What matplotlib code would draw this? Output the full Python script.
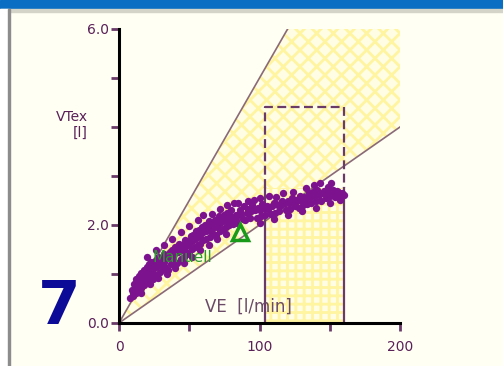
import matplotlib
matplotlib.use("Agg")
import matplotlib.pyplot as plt
from matplotlib.patches import Polygon, Rectangle

# breathing data: ventilation VE [l/min] vs tidal volume VTex [l]
ve = [8, 9, 10, 11, 12, 12, 13, 14, 14, 15, 16, 16, 17, 18, 18, 19, 20, 21, 21,
      22, 23, 24, 24, 25, 26, 27, 27, 28, 29, 30, 31, 32, 33, 34, 35, 36, 37, 38,
      39, 40, 41, 42, 43, 44, 45, 46, 47, 48, 49, 50, 51, 52, 53, 54, 55, 56, 57,
      58, 59, 60, 61, 62, 63, 64, 65, 66, 67, 68, 69, 70, 71, 72, 73, 74, 75, 76,
      77, 78, 79, 80, 81, 82, 83, 84, 86, 88, 89, 90, 92, 93, 95, 96, 98, 99, 101,
      102, 104, 105, 107, 108, 110, 111, 113, 114, 116, 117, 119, 120, 122, 123,
      125, 126, 128, 129, 131, 132, 134, 135, 137, 138, 140, 141, 143, 144, 146,
      147, 149, 150, 152, 154, 156, 158, 160]
vtex = [0.52, 0.68, 0.55, 0.80, 0.62, 0.90, 0.75, 0.95, 0.66, 0.88, 1.02, 0.72,
        0.93, 1.08, 0.78, 0.98, 1.15, 0.85, 1.20, 1.05, 1.25, 0.90, 1.18, 1.00,
        1.28, 0.98, 1.22, 1.35, 1.05, 1.30, 1.10, 1.40, 1.15, 1.38, 1.08, 1.45,
        1.20, 1.50, 1.25, 1.55, 1.22, 1.48, 1.62, 1.30, 1.60, 1.35, 1.70, 1.45,
        1.68, 1.40, 1.78, 1.52, 1.80, 1.55, 1.88, 1.60, 1.90, 1.62, 1.95, 1.70,
        2.00, 1.72, 1.95, 2.08, 1.75, 2.02, 1.82, 2.10, 1.80, 2.05, 2.18, 1.88,
        2.12, 1.92, 2.20, 1.95, 2.25, 2.00, 2.18, 2.30, 2.02, 2.45, 2.20, 2.05,
        2.30, 2.12, 2.38, 2.10, 2.32, 2.15, 2.40, 2.52, 2.15, 2.35, 2.18, 2.42,
        2.20, 2.38, 2.60, 2.22, 2.45, 2.25, 2.40, 2.28, 2.50, 2.65, 2.30, 2.48,
        2.32, 2.55, 2.38, 2.52, 2.35, 2.60, 2.40, 2.58, 2.42, 2.65, 2.45, 2.68,
        2.48, 2.72, 2.85, 2.50, 2.70, 2.55, 2.78, 2.60, 2.72, 2.58, 2.68, 2.60,
        2.62]
# breaths lying in the middle of the cloud
ve_mid = [10, 13, 15, 17, 19, 20, 22, 23, 25, 26, 28, 30, 32, 33, 35, 37, 38,
          40, 42, 44, 46, 48, 50, 52, 54, 56, 58, 60, 62, 64, 66, 68, 70, 72, 74,
          76, 78, 80, 83, 85, 87, 91, 94, 97, 100, 103, 106, 109, 112, 115, 118,
          121, 124, 127, 130, 133, 136, 139, 142, 145, 148, 151, 153, 155, 157,
          159]
vtex_mid = [0.62, 0.72, 0.80, 0.88, 1.00, 0.95, 1.10, 1.02, 1.12, 1.15, 1.18,
            1.20, 1.25, 1.30, 1.32, 1.38, 1.35, 1.42, 1.45, 1.50, 1.55, 1.58,
            1.62, 1.68, 1.72, 1.75, 1.80, 1.85, 1.88, 1.90, 1.92, 1.98, 1.95,
            2.05, 2.08, 2.10, 2.12, 2.15, 2.10, 2.20, 2.22, 2.25, 2.28, 2.30,
            2.30, 2.35, 2.32, 2.38, 2.42, 2.40, 2.45, 2.44, 2.48, 2.50, 2.50,
            2.55, 2.58, 2.60, 2.62, 2.65, 2.68, 2.66, 2.68, 2.70, 2.64, 2.66]
# breaths at the upper and lower fringe of the cloud
ve_edge = [20, 26, 32, 38, 44, 50, 56, 60, 66, 72, 77, 85, 92, 100, 112, 124,
           133, 139, 151, 16, 22, 28, 34, 40, 46, 52, 58, 64, 70, 76, 100, 110,
           120, 130, 140, 150, 157]
vtex_edge = [1.35, 1.50, 1.60, 1.72, 1.85, 1.98, 2.10, 2.20, 2.22, 2.32, 2.40,
             2.45, 2.50, 2.55, 2.58, 2.68, 2.75, 2.82, 2.85, 0.62, 0.80, 0.92,
             1.00, 1.12, 1.22, 1.35, 1.50, 1.60, 1.72, 1.82, 2.05, 2.12, 2.20,
             2.28, 2.35, 2.45, 2.52]

manual_ve, manual_vt = 86, 1.86          # "Manuell" marker
upper_ratio, lower_ratio = 20, 50        # limit lines VT = VE / ratio
box_ve = (103.6, 160)                    # target VE range
box_top, box_solid_top = 4.4, 2.75

purple = '#7d128f'
frame = '#6a3a68'
txt = '#5a2058'

fig = plt.figure(figsize=(5.03, 3.66), dpi=100)
fig.patch.set_facecolor('#fffff3')
# window chrome: blue title strip and left border
fig.add_artist(Rectangle((0, 1 - 9 / 366), 1, 9 / 366, transform=fig.transFigure,
                         color='#0a6fc2', zorder=0))
fig.add_artist(Rectangle((0, 1 - 12 / 366), 1, 3 / 366, transform=fig.transFigure,
                         color='#d4d4c8', zorder=0))
fig.add_artist(Rectangle((0, 0), 8 / 503, 1 - 9 / 366, transform=fig.transFigure,
                         color='white', zorder=0))
fig.add_artist(Rectangle((8 / 503, 0), 2 / 503, 1 - 9 / 366, transform=fig.transFigure,
                         color='#8c8c8c', zorder=0))

ax = fig.add_axes([119 / 503, 43 / 366, 281 / 503, 294 / 366])
ax.set_facecolor('none')
ax.set_xlim(0, 200)
ax.set_ylim(0, 6)

plt.rcParams['hatch.linewidth'] = 2.0
# acceptable zone between the two lines
ax.add_patch(Polygon([(0, 0), (upper_ratio * 6, 6), (200, 6), (200, 200 / lower_ratio)],
                     closed=True, facecolor='#fffde4', edgecolor='#fff4a0',
                     hatch='xx', lw=0, zorder=1))
ax.add_patch(Rectangle((box_ve[0], 0), box_ve[1] - box_ve[0], box_solid_top,
                       facecolor='#fffde4', edgecolor='#fff4a0', hatch='++',
                       lw=0, zorder=1))

ax.plot([0, upper_ratio * 6], [0, 6], color='#8a6a78', lw=1.2, zorder=2)
ax.plot([0, 200], [0, 200 / lower_ratio], color='#8a6a78', lw=1.2, zorder=2)

# target box: dashed upper part, solid sides below
x0, x1 = box_ve
ax.plot([x0, x0, x1, x1], [box_solid_top, box_top, box_top, box_solid_top],
        color=frame, lw=1.6, ls=(0, (4, 2)), zorder=2)
ax.plot([x0, x0], [0, box_solid_top], color=frame, lw=1.6, zorder=2)
ax.plot([x1, x1], [0, box_solid_top], color=frame, lw=1.6, zorder=2)

for xs, ys in ((ve, vtex), (ve_mid, vtex_mid), (ve_edge, vtex_edge)):
    ax.scatter(xs, ys, s=28, color=purple, lw=0, zorder=4)
ax.text(24, 1.33, 'Manuell', color='#2a9a2a', fontsize=11, va='center', zorder=4.5)
ax.plot(manual_ve, manual_vt, marker='^', ms=11, mfc='none', mec='#199a19',
        mew=2.5, zorder=5)

ax.text(61, 0.33, 'VE  [l/min]', color='#6a4a66', fontsize=12, va='center', zorder=3)

for s in ('top', 'right'):
    ax.spines[s].set_visible(False)
for s in ('left', 'bottom'):
    ax.spines[s].set_color('black')
    ax.spines[s].set_linewidth(2.2)
    ax.spines[s].set_zorder(6)

ax.set_yticks(range(7))
ax.set_yticklabels(['0.0', '', '2.0', '', '', '', '6.0'])
ax.set_xticks([0, 50, 100, 150, 200])
ax.set_xticklabels(['0', '', '100', '', '200'])
ax.tick_params(axis='both', colors=frame, labelcolor=txt, labelsize=10,
               length=6, width=2)
ax.tick_params(axis='x', pad=6)
ax.tick_params(axis='y', pad=1)

fig.text(88 / 503, 1 - 125 / 366, 'VTex\n[l]', color=txt, fontsize=10,
         ha='right', va='center', multialignment='right')
fig.text(59 / 503, 1 - 308 / 366, '7', color='#0b0b98', fontsize=44,
         fontweight='bold', ha='center', va='center')

fig.savefig('out.png', dpi=100, facecolor=fig.get_facecolor())
